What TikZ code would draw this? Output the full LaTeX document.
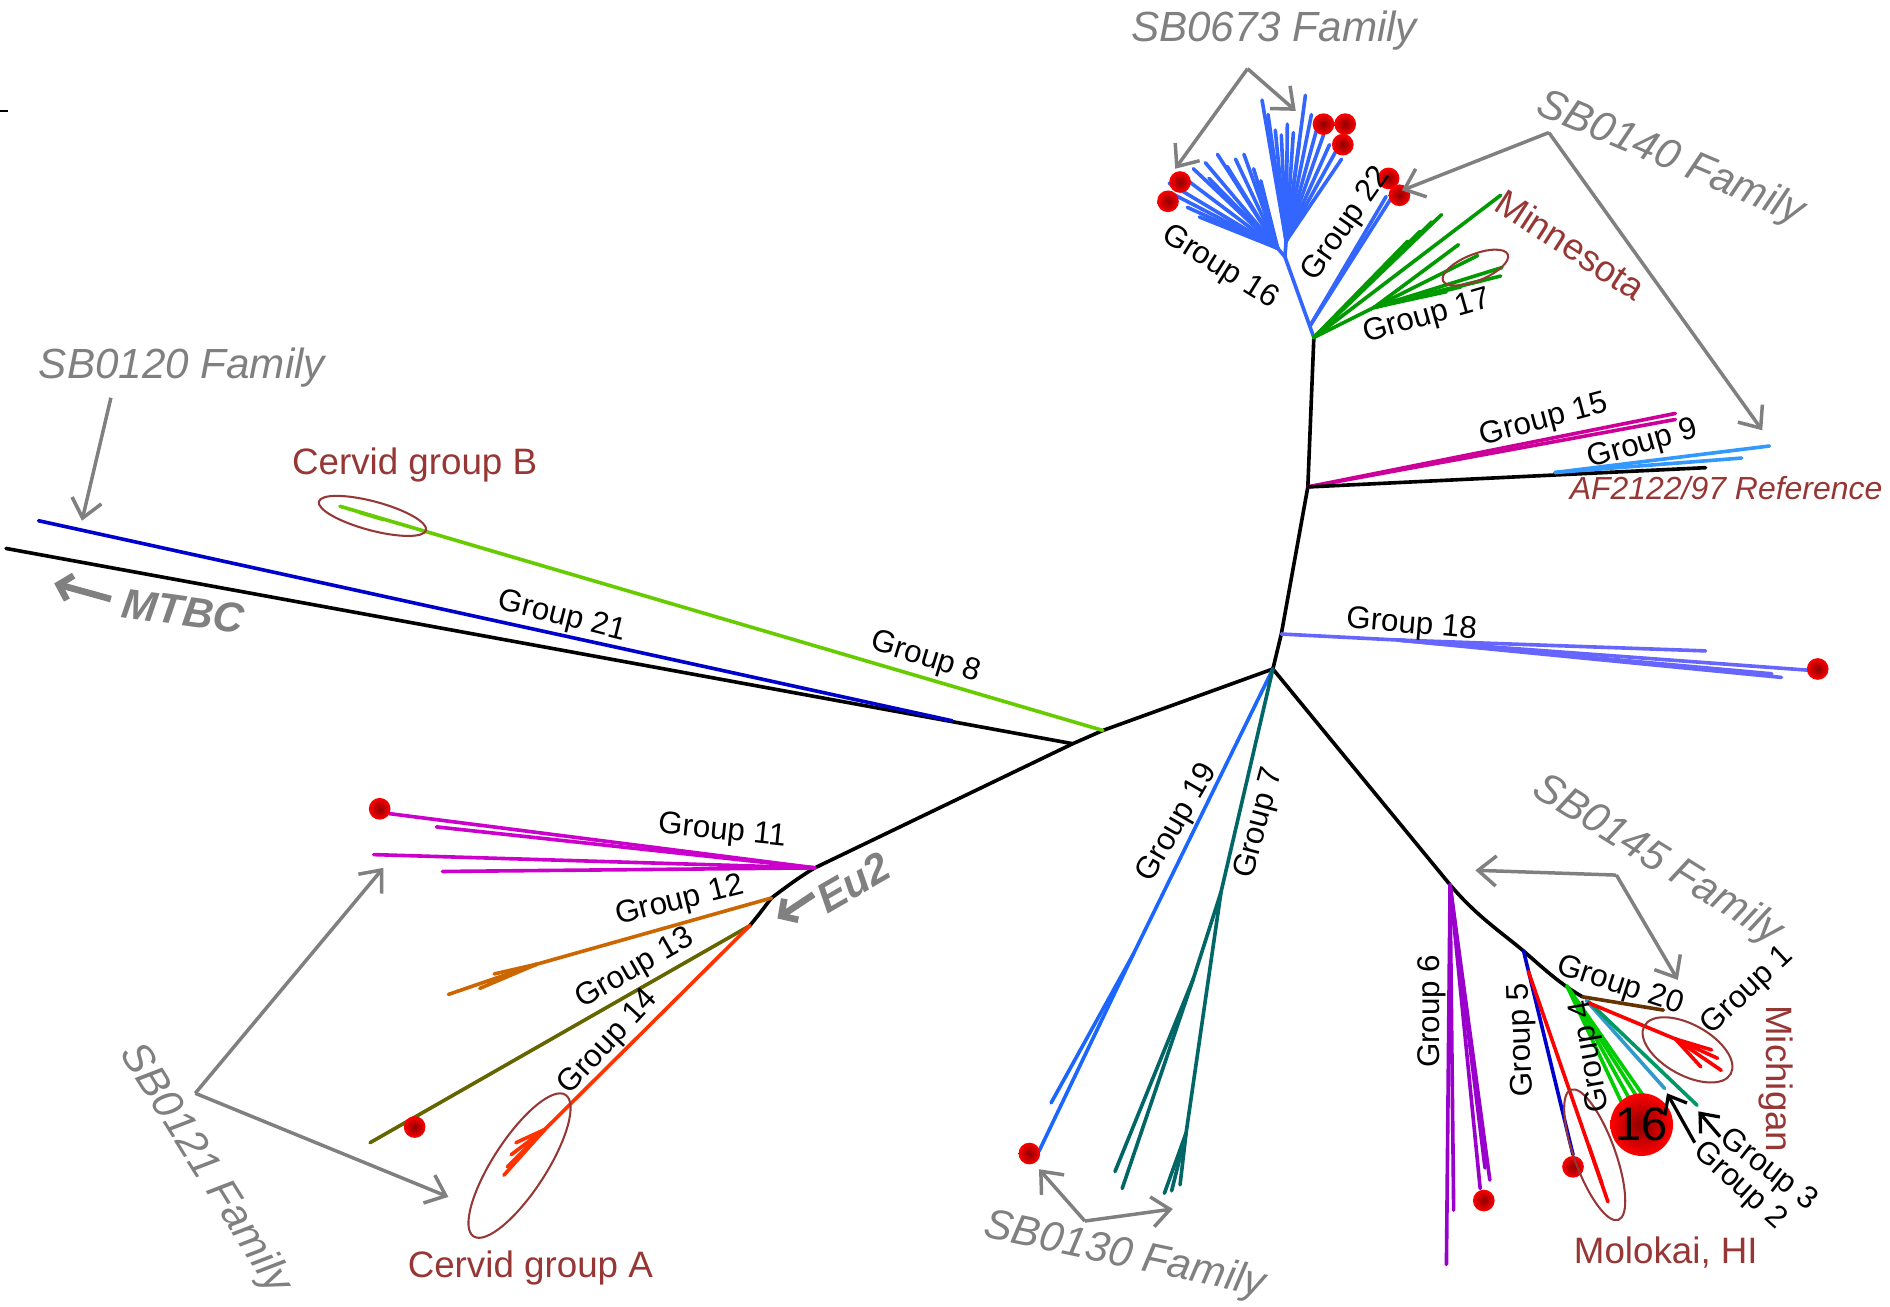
\documentclass[tikz,border=0pt]{standalone}
\usepackage{fontspec}
\setmainfont{Liberation Sans}
\usetikzlibrary{arrows.meta,shapes.geometric}
\definecolor{famgray}{RGB}{128,128,128}
\definecolor{redlab}{RGB}{150,55,53}
\definecolor{cGa}{RGB}{0,0,204}     % 21
\definecolor{cGb}{RGB}{102,204,0}   % 8
\definecolor{cGc}{RGB}{204,0,204}   % 11
\definecolor{cGd}{RGB}{204,102,0}   % 12
\definecolor{cGe}{RGB}{102,102,0}   % 13
\definecolor{cGf}{RGB}{255,51,0}    % 14
\definecolor{cGg}{RGB}{26,102,255}  % 19
\definecolor{cGh}{RGB}{0,102,102}   % 7
\definecolor{cGi}{RGB}{153,0,204}   % 6
\definecolor{cGj}{RGB}{0,0,204}     % 5
\definecolor{cGk}{RGB}{0,204,0}     % 4
\definecolor{cGl}{RGB}{51,153,204}  % 2
\definecolor{cGm}{RGB}{0,153,102}   % 3
\definecolor{cGn}{RGB}{255,0,0}     % 1
\definecolor{cGo}{RGB}{102,51,0}    % 20
\definecolor{cGp}{RGB}{102,102,255} % 18
\definecolor{cGq}{RGB}{204,0,153}   % 15
\definecolor{cGr}{RGB}{51,153,255}  % 9
\definecolor{cGs}{RGB}{51,102,255}  % 16/22
\definecolor{cGt}{RGB}{0,153,0}     % 17
\begin{document}
\begin{tikzpicture}[x=1pt,y=-1pt,
  ln/.style={line width=3pt, line cap=round, line join=round},
  bk/.style={ln, draw=black},
  fam/.style={font=\fontsize{35}{40}\selectfont\itshape, text=famgray, inner sep=0pt},
  grp/.style={font=\fontsize{26}{30}\selectfont, inner sep=0pt},
  loc/.style={font=\fontsize{30.5}{34}\selectfont, text=redlab, inner sep=0pt},
  garr/.style={draw=famgray, line width=2.9pt, -{Straight Barb[length=15pt,width=25pt]}},
  bigarr/.style={draw=famgray, line width=5.5pt, -{Straight Barb[length=10pt,width=21pt]}},
  karr/.style={draw=black, line width=2.7pt, -{Straight Barb[length=13pt,width=21pt]}},
  rdot/.style={circle, inner sep=0pt, minimum size=18pt, inner color=red!55!black, outer color=red},
  ell/.style={draw=redlab, ellipse, line width=1.7pt, inner sep=0pt},
]
\useasboundingbox (0,0) rectangle (1568,1084);

% tick
\coordinate (tk1) at (0,92); \coordinate (tk2) at (7,92);
\draw[line width=1.2pt] (tk1) -- (tk2);

% backbone coordinates
\coordinate (mtbc) at (5,455);
\coordinate (n1) at (890,617);
\coordinate (n2) at (915,606);
\coordinate (c1) at (1056,555);
\coordinate (j11) at (676,720);
\coordinate (j12) at (640,745);
\coordinate (j13) at (622,768);
\coordinate (j18) at (1063,526);
\coordinate (j15) at (1085,404);
\coordinate (top) at (1090,280);
\coordinate (j6) at (1203,734);
\coordinate (j5) at (1264,789);
\coordinate (j4) at (1300,818);
\coordinate (j20) at (1313,827);

\draw[bk] (mtbc) -- (n1);
\draw[bk] (j13) .. controls (632,756) and (636,750) .. (j12) .. controls (652,736) and (664,727) .. (j11) -- (n1) -- (n2) -- (c1);
\draw[bk] (c1) -- (j18) -- (j15) -- (top);
\draw[bk] (c1) -- (j6) .. controls (1225,760) and (1245,773) .. (j5) .. controls (1280,803) and (1295,817) .. (j20);

% Group 21
\coordinate (g21a) at (32,432); \coordinate (g21b) at (790,598);
\draw[ln,cGa] (g21a) -- (g21b);
% Group 8
\coordinate (g8t) at (282,420); \coordinate (g8k) at (318,431); \coordinate (g8u) at (298,425);
\draw[ln,cGb] (n2) -- (g8t);
\draw[ln,cGb] (g8k) -- (g8u);
\node[ell, minimum width=92pt, minimum height=24pt, rotate=-15] (ellB) at (309,428) {};

% Group 11
\foreach \x/\y [count=\i] in {323/675, 362/686, 310/709, 367/723}{
  \coordinate (g11t\i) at (\x,\y);
  \draw[ln,cGc] (j11) -- (g11t\i);
}
\node[rdot] (d11) at (315,671) {};
% Group 12
\coordinate (g12k) at (445,800);
\draw[ln,cGd] (j12) -- (g12k);
\foreach \x/\y [count=\i] in {372/825, 398/820, 410/808, 405/815}{
  \coordinate (g12t\i) at (\x,\y);
  \draw[ln,cGd] (g12k) -- (g12t\i);
}
% Group 13
\coordinate (g13t) at (307,948);
\draw[ln,cGe] (j13) -- (g13t);
\node[rdot] (d13) at (344,935) {};
% Group 14
\coordinate (g14k) at (452,937);
\draw[ln,cGf] (j13) -- (g14k);
\foreach \x/\y [count=\i] in {418/975, 428/948, 424/958, 436/950, 421/968}{
  \coordinate (g14t\i) at (\x,\y);
  \draw[ln,cGf] (g14k) -- (g14t\i);
}
\node[ell, minimum width=140pt, minimum height=44pt, rotate=57] (ellA) at (431,967) {};

% Group 19
\coordinate (g19k) at (940,792); \coordinate (g19t1) at (862,955); \coordinate (g19t2) at (872,915);
\draw[ln,cGg] (c1) -- (g19k) -- (g19t1);
\draw[ln,cGg] (g19k) -- (g19t2);
\node[rdot] (d19) at (854,957) {};
% Group 7
\coordinate (s7) at (1013,740); \coordinate (s7a) at (990,812); \coordinate (s7b) at (984,940);
\draw[ln,cGh] (c1) -- (s7) -- (s7a);
\draw[ln,cGh] (s7) -- (s7b);
\foreach \x/\y [count=\i] in {925/972, 931/986}{
  \coordinate (g7a\i) at (\x,\y); \draw[ln,cGh] (s7a) -- (g7a\i);}
\foreach \x/\y [count=\i] in {966/990, 972/988, 979/983}{
  \coordinate (g7b\i) at (\x,\y); \draw[ln,cGh] (s7b) -- (g7b\i);}

% Group 6
\foreach \x/\y [count=\i] in {1200/1049, 1206/1004, 1228/986, 1236/979, 1232/969}{
  \coordinate (g6t\i) at (\x,\y); \draw[ln,cGi] (j6) -- (g6t\i);}
\node[rdot] (d6) at (1231,996) {};
% Group 5 and Molokai
\coordinate (g5t) at (1305,958); \coordinate (g5r) at (1268,806);
\coordinate (molt) at (1334,997); \coordinate (molk) at (1318,950); \coordinate (molu) at (1329,982);
\draw[ln,cGj] (j5) -- (g5t);
\draw[ln,cGn] (g5r) -- (molt);
\draw[ln,cGn] (molk) -- (molu);
\node[rdot] (d5) at (1305,968) {};
\node[ell, minimum width=115pt, minimum height=34pt, rotate=-70] (ellM) at (1323,958) {};
% Group 4
\foreach \x/\y [count=\i] in {1345/914, 1352/912, 1358/910, 1364/910}{
  \coordinate (g4t\i) at (\x,\y); \draw[ln,cGk] (j4) -- (g4t\i);}
% Group 20, 2, 3, 1
\coordinate (g20t) at (1380,838);
\draw[ln,cGo] (j20) -- (g20t);
\coordinate (g2s) at (1316,830); \coordinate (g2t) at (1381,903);
\draw[ln,cGl] (g2s) -- (g2t);
\coordinate (g3s) at (1318,831); \coordinate (g3t) at (1408,917);
\draw[ln,cGm] (g3s) -- (g3t);
\coordinate (g1s) at (1318,832); \coordinate (g1k) at (1390,862); \coordinate (g1t) at (1428,888);
\draw[ln,cGn] (g1s) -- (g1k) -- (g1t);
\coordinate (g1a) at (1420,871); \coordinate (g1b) at (1425,878); \coordinate (g1c) at (1411,885);
\draw[ln,cGn] (g1k) -- (g1a); \draw[ln,cGn] (g1k) -- (g1b); \draw[ln,cGn] (g1k) -- (g1c);
\node[ell, minimum width=82pt, minimum height=42pt, rotate=-29] (ellMi) at (1400,871) {};
\node[rdot, minimum size=52pt, font=\fontsize{39}{40}\selectfont] (c16) at (1362,933) {16};

% Group 18
\coordinate (g18k) at (1160,531);
\draw[ln,cGp] (j18) -- (g18k);
\foreach \x/\y [count=\i] in {1415/540, 1478/562, 1470/559, 1500/556}{
  \coordinate (g18t\i) at (\x,\y); \draw[ln,cGp] (g18k) -- (g18t\i);}
\node[rdot] (d18) at (1508,555) {};

% Group 15, reference, Group 9
\coordinate (g15t1) at (1390,343); \coordinate (g15t2) at (1390,348);
\draw[ln,cGq] (j15) -- (g15t1); \draw[ln,cGq] (j15) -- (g15t2);
\coordinate (reft) at (1415,388);
\draw[bk] (j15) -- (reft);
\coordinate (g9s) at (1290,392); \coordinate (g9t1) at (1468,370); \coordinate (g9t2) at (1445,380);
\draw[ln,cGr] (g9s) -- (g9t1); \draw[ln,cGr] (g9s) -- (g9t2);

% Group 16 / 22
\coordinate (r16) at (1066,213); \coordinate (l16) at (1060,206); \coordinate (rr16) at (1067,200);
\draw[ln,cGs] (top) -- (r16) -- (l16);
\draw[ln,cGs] (r16) -- (rr16);
\foreach \x/\y [count=\i] in {970/152, 975/162, 985/172, 995/180, 983/148, 990/140, 1000/135, 1003/148, 1010/128, 1018/138, 1025/132, 1032/128, 1040/140, 1046/150}{
  \coordinate (f16a\i) at (\x,\y); \draw[ln,cGs] (l16) -- (f16a\i);}
\foreach \x/\y [count=\i] in {1047/83, 1052/95, 1058/108, 1063/112, 1068/103, 1073/110, 1078/118, 1083/79, 1088/95, 1093/105, 1098/112, 1103/120, 1108/126, 1113/132}{
  \coordinate (f16b\i) at (\x,\y); \draw[ln,cGs] (rr16) -- (f16b\i);}
\coordinate (g22s) at (1087,270); \coordinate (g22t1) at (1150,163); \coordinate (g22t2) at (1157,160);
\draw[ln,cGs] (g22s) -- (g22t1); \draw[ln,cGs] (g22s) -- (g22t2);
\foreach \x/\y [count=\i] in {979/151, 969/167, 1098/103, 1116/103, 1114/120, 1152/148, 1161/162}{
  \node[rdot] (d16\i) at (\x,\y) {};}

% Group 17
\coordinate (g17s) at (1140,255);
\draw[ln,cGt] (top) -- (g17s);
\foreach \x/\y [count=\i] in {1245/162, 1196/178, 1188/184, 1178/192, 1168/200}{
  \coordinate (g17a\i) at (\x,\y); \draw[ln,cGt] (top) -- (g17a\i);}
\foreach \x/\y [count=\i] in {1210/203, 1226/212, 1246/222, 1232/232, 1212/238, 1200/242, 1245/229}{
  \coordinate (g17b\i) at (\x,\y); \draw[ln,cGt] (g17s) -- (g17b\i);}
\node[ell, minimum width=58pt, minimum height=22pt, rotate=22] (ellMn) at (1224,222) {};

% gray family arrows
\coordinate (v673) at (1035,57); \coordinate (a673a) at (975,140); \coordinate (a673b) at (1075,92);
\draw[garr] (v673) -- (a673a); \draw[garr] (v673) -- (a673b);
\coordinate (v140) at (1285,110); \coordinate (a140a) at (1163,158); \coordinate (a140b) at (1462,357);
\draw[garr] (v140) -- (a140a); \draw[garr] (v140) -- (a140b);
\coordinate (v120) at (92,330); \coordinate (a120) at (68,432);
\draw[garr] (v120) -- (a120);
\coordinate (v121) at (162,907); \coordinate (a121a) at (318,720); \coordinate (a121b) at (372,993);
\draw[garr] (v121) -- (a121a); \draw[garr] (v121) -- (a121b);
\coordinate (v130) at (900,1013); \coordinate (a130a) at (862,970); \coordinate (a130b) at (973,1003);
\draw[garr] (v130) -- (a130a); \draw[garr] (v130) -- (a130b);
\coordinate (v145) at (1341,726); \coordinate (a145a) at (1224,722); \coordinate (a145b) at (1392,813);
\draw[garr] (v145) -- (a145a); \draw[garr] (v145) -- (a145b);
\coordinate (vmt) at (92,497); \coordinate (amt) at (45,484);
\draw[bigarr] (vmt) -- (amt);
\coordinate (veu) at (675,742); \coordinate (aeu) at (645,762);
\draw[bigarr] (veu) -- (aeu);
\coordinate (vk1) at (1406,948); \coordinate (ak1) at (1383,907);
\coordinate (vk2) at (1427,943); \coordinate (ak2) at (1409,922);
\draw[karr] (vk1) -- (ak1); \draw[karr] (vk2) -- (ak2);

% family labels
\node[fam] (t673) at (1057,25) {SB0673 Family};
\node[fam, rotate=-23] (t140) at (1386,132) {SB0140 Family};
\node[fam] (t120) at (151,305) {SB0120 Family};
\node[fam, rotate=-32] (t145) at (1375,714) {SB0145 Family};
\node[fam, rotate=-12] (t130) at (933,1042) {SB0130 Family};
\node[fam, rotate=-58] (t121) at (170,970) {SB0121 Family};
\node[font=\fontsize{35}{40}\selectfont\bfseries\itshape, text=famgray, inner sep=0pt, rotate=-8] (tmt) at (152,507) {MTBC};
\node[font=\fontsize{35}{40}\selectfont\bfseries\itshape, text=famgray, inner sep=0pt, rotate=30] (teu) at (708,732) {Eu2};

% group labels
\node[grp, rotate=-32] (lab16) at (1012,222) {Group 16};
\node[grp, rotate=55] (lab22) at (1117,186) {Group 22};
\node[grp, rotate=16] (lab17) at (1184,263) {Group 17};
\node[grp, rotate=15] (lab15) at (1281,349) {Group 15};
\node[grp, rotate=16] (lab9) at (1363,369) {Group 9};
\node[grp, rotate=-5] (lab18) at (1171,519) {Group 18};
\node[grp, rotate=-14] (lab21) at (466,512) {Group 21};
\node[grp, rotate=-17] (lab8) at (768,546) {Group 8};
\node[grp, rotate=-6] (lab11) at (599,690) {Group 11};
\node[grp, rotate=14] (lab12) at (564,748) {Group 12};
\node[grp, rotate=30] (lab13) at (527,804) {Group 13};
\node[grp, rotate=47] (lab14) at (505,865) {Group 14};
\node[grp, rotate=60] (lab19) at (977,683) {Group 19};
\node[grp, rotate=75] (lab7) at (1045,683) {Group 7};
\node[grp, rotate=90] (lab6) at (1188,839) {Group 6};
\node[grp, rotate=92] (lab5) at (1263,863) {Group 5};
\node[grp, rotate=100] (lab4) at (1320,876) {Group 4};
\node[grp, rotate=-18] (lab20) at (1344,818) {Group 20};
\node[grp, rotate=43] (lab1) at (1450,822) {Group 1};
\node[grp, rotate=-38] (lab3) at (1467,971) {Group 3};
\node[grp, rotate=-42] (lab2) at (1443,984) {Group 2};

% red location labels
\node[loc, rotate=-33] (labMn) at (1303,203) {Minnesota};
\node[loc, rotate=-90] (labMi) at (1473,895) {Michigan};
\node[loc] (labMo) at (1382,1039) {Molokai, HI};
\node[loc] (labCA) at (440,1052) {Cervid group A};
\node[loc] (labCB) at (344,386) {Cervid group B};
\node[font=\fontsize{26.5}{30}\selectfont\itshape, text=redlab, inner sep=0pt] (labRef) at (1432,405) {AF2122/97 Reference};
\end{tikzpicture}
\end{document}
